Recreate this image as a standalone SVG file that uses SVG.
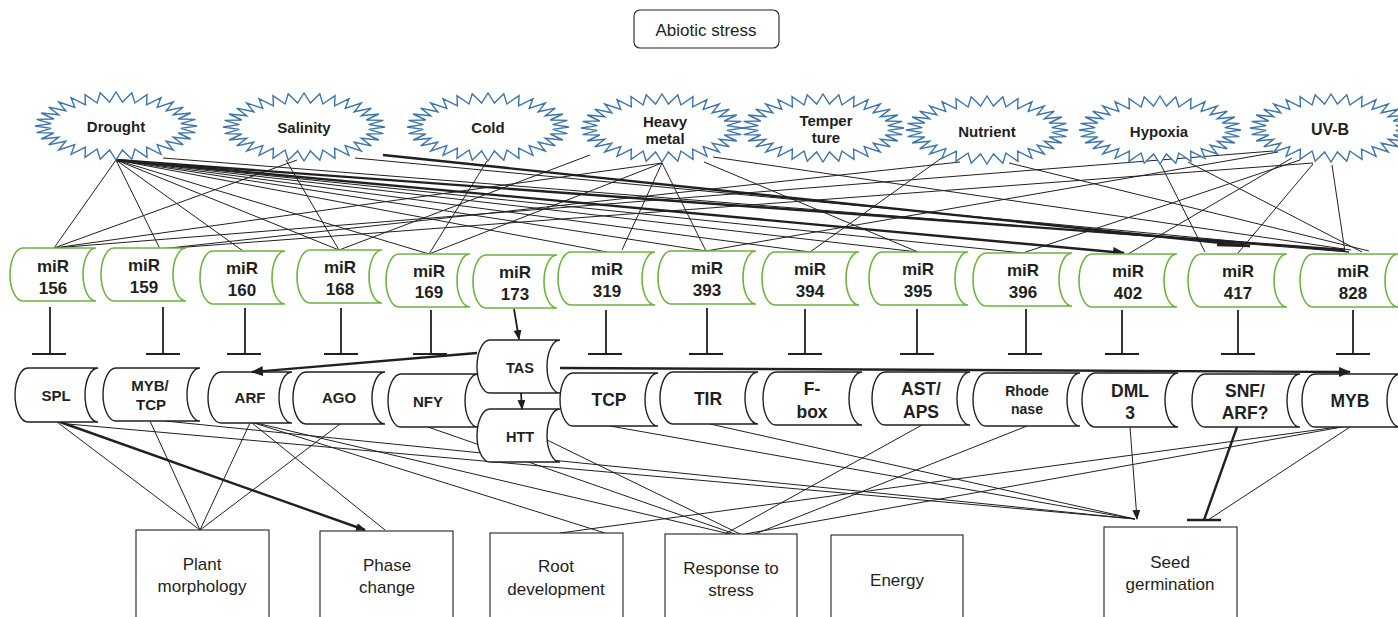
<svg xmlns="http://www.w3.org/2000/svg" xmlns:xlink="http://www.w3.org/1999/xlink" width="1398" height="617" viewBox="0 0 1398 617">
<style>
.star{fill:#fff;stroke:#3d75aa;stroke-width:1.4}
.mir{fill:#fff;stroke:#6db33f;stroke-width:1.6}
.tgt{fill:#fff;stroke:#231f20;stroke-width:1.4}
.box{fill:#fff;stroke:#231f20;stroke-width:1.1}
.ln{stroke:#231f20;stroke-width:1;fill:none}
.tk{stroke:#231f20;stroke-width:2.4;fill:none}
.inh{stroke:#231f20;stroke-width:1.8;fill:none}
text{font-family:"Liberation Sans",Arial,sans-serif;fill:#231f20;text-anchor:middle}
.st{font-size:15px;font-weight:bold}
.mt{font-size:17px;font-weight:bold}
.t15{font-size:15px;font-weight:bold}
.t17{font-size:17.5px;font-weight:bold}
.bt{font-size:17px}
</style>
<defs>
<marker id="arr" markerUnits="userSpaceOnUse" markerWidth="12" markerHeight="10" refX="11" refY="5" orient="auto"><path d="M0,0 L12,5 L0,10 Z" fill="#231f20"/></marker>
<marker id="arrs" markerUnits="userSpaceOnUse" markerWidth="10" markerHeight="8" refX="9" refY="4" orient="auto"><path d="M0,0 L10,4 L0,8 Z" fill="#231f20"/></marker>
<path id="star" d="M81,0 64.7,2.4 79.4,6.6 62.2,7 74.8,13 57.3,11.3 67.3,18.9 50.2,15.2 57.3,24 41.2,18.6 45,28.3 30.6,21.2 31,31.4 18.9,23 15.8,33.3 6.4,23.9 0,34 -6.4,23.9 -15.8,33.3 -18.9,23 -31,31.4 -30.6,21.2 -45,28.3 -41.2,18.6 -57.3,24 -50.2,15.2 -67.3,18.9 -57.3,11.3 -74.8,13 -62.2,7 -79.4,6.6 -64.7,2.4 -81,0 -64.7,-2.4 -79.4,-6.6 -62.2,-7 -74.8,-13 -57.3,-11.3 -67.3,-18.9 -50.2,-15.2 -57.3,-24 -41.2,-18.6 -45,-28.3 -30.6,-21.2 -31,-31.4 -18.9,-23 -15.8,-33.3 -6.4,-23.9 0,-34 6.4,-23.9 15.8,-33.3 18.9,-23 31,-31.4 30.6,-21.2 45,-28.3 41.2,-18.6 57.3,-24 50.2,-15.2 67.3,-18.9 57.3,-11.3 74.8,-13 62.2,-7 79.4,-6.6 64.7,-2.4 Z"/>
</defs>
<rect width="1398" height="617" fill="#fff"/>

<g id="connectors">
<!-- stars to miRNAs -->
<line class="ln" x1="116" y1="160" x2="54" y2="248"/>
<line class="ln" x1="116" y1="160" x2="160" y2="249"/>
<line class="ln" x1="116" y1="160" x2="243" y2="251"/>
<line class="ln" x1="116" y1="160" x2="339" y2="250"/>
<line class="ln" x1="116" y1="160" x2="429" y2="254"/>
<line class="ln" x1="116" y1="160" x2="607" y2="252"/>
<line class="ln" x1="116" y1="160" x2="706" y2="251"/>
<line class="ln" x1="116" y1="160" x2="810" y2="252"/>
<line class="ln" x1="116" y1="160" x2="918" y2="252"/>
<line class="ln" x1="116" y1="160" x2="1023" y2="253"/>
<line class="ln" x1="163" y1="158" x2="1349" y2="252"/>
<line class="tk" x1="116" y1="160" x2="1124" y2="253" marker-end="url(#arr)"/>
<line class="tk" x1="116" y1="160" x2="1345" y2="250"/>
<line class="tk" x1="383" y1="155" x2="1250" y2="246"/>
<line class="tk" x1="1217" y1="245" x2="1250" y2="246"/>
<line class="ln" x1="286" y1="160" x2="339" y2="250"/>
<line class="ln" x1="297" y1="160" x2="54" y2="248"/>
<line class="ln" x1="355" y1="158" x2="1349" y2="252"/>
<line class="ln" x1="487" y1="161" x2="429" y2="254"/>
<line class="ln" x1="662" y1="163" x2="54" y2="248"/>
<line class="ln" x1="662" y1="163" x2="429" y2="254"/>
<line class="ln" x1="662" y1="163" x2="622" y2="250"/>
<line class="ln" x1="662" y1="163" x2="706" y2="251"/>
<line class="ln" x1="590" y1="155" x2="339" y2="250"/>
<line class="ln" x1="704" y1="162" x2="918" y2="252"/>
<line class="ln" x1="713" y1="157" x2="1351" y2="250"/>
<line class="ln" x1="943" y1="157" x2="810" y2="252"/>
<line class="ln" x1="1009" y1="163" x2="1369" y2="251"/>
<line class="ln" x1="960" y1="162" x2="160" y2="249"/>
<line class="ln" x1="1160" y1="163" x2="1205" y2="252"/>
<line class="ln" x1="1188" y1="162" x2="1362" y2="252"/>
<line class="ln" x1="1273" y1="151" x2="54" y2="248"/>
<line class="ln" x1="1278" y1="152" x2="706" y2="251"/>
<line class="ln" x1="1292" y1="158" x2="1128" y2="254"/>
<line class="ln" x1="1300" y1="160" x2="1023" y2="253"/>
<line class="ln" x1="1313" y1="164" x2="1238" y2="253"/>
<line class="ln" x1="1332" y1="165" x2="1345" y2="252"/>
<line class="ln" x1="1313" y1="163" x2="160" y2="249"/>

<!-- inhibition from miRNAs -->
<path class="inh" d="M50,307 V354 M32,354 H66"/>
<path class="inh" d="M163,307 V354 M146,354 H180"/>
<path class="inh" d="M245,308 V354 M227,354 H261"/>
<path class="inh" d="M341,308 V354 M324,354 H358"/>
<path class="inh" d="M431,310 V354 M413,354 H447"/>
<path class="inh" d="M606,310 V354 M588,354 H622"/>
<path class="inh" d="M707,308 V354 M689,354 H723"/>
<path class="inh" d="M805,309 V354 M788,354 H822"/>
<path class="inh" d="M917,309 V354 M900,354 H934"/>
<path class="inh" d="M1026,309 V354 M1008,354 H1042"/>
<path class="inh" d="M1122,310 V354 M1105,354 H1139"/>
<path class="inh" d="M1238,310 V354 M1221,354 H1255"/>
<path class="inh" d="M1353,310 V354 M1336,354 H1370"/>

<!-- targets to processes -->
<line class="ln" x1="57" y1="422" x2="200" y2="530"/>
<line class="tk" x1="60" y1="422" x2="365" y2="530" marker-end="url(#arrs)"/>
<line class="ln" x1="68" y1="424" x2="1135" y2="519"/>
<line class="ln" x1="150" y1="421" x2="200" y2="530"/>
<line class="ln" x1="165" y1="421" x2="1135" y2="519"/>
<line class="ln" x1="250" y1="423" x2="200" y2="530"/>
<line class="ln" x1="252" y1="423" x2="385" y2="530"/>
<line class="ln" x1="254" y1="423" x2="605" y2="533"/>
<line class="ln" x1="256" y1="423" x2="730" y2="534"/>
<line class="ln" x1="340" y1="424" x2="200" y2="530"/>
<line class="ln" x1="428" y1="427" x2="735" y2="534"/>
<line class="ln" x1="547" y1="440" x2="740" y2="534"/>
<line class="ln" x1="610" y1="426" x2="1135" y2="519"/>
<line class="ln" x1="710" y1="424" x2="1135" y2="519"/>
<line class="ln" x1="922" y1="425" x2="725" y2="534"/>
<line class="ln" x1="1027" y1="426" x2="755" y2="534"/>
<line class="ln" x1="1130" y1="427" x2="1137" y2="519" marker-end="url(#arrs)"/>
<path class="tk" d="M1237,427 L1204,520 M1187,520 H1221"/>
<line class="ln" x1="1338" y1="427" x2="560" y2="533"/>
<line class="ln" x1="1342" y1="427" x2="745" y2="534"/>
<line class="ln" x1="1350" y1="427" x2="1208" y2="520"/>
</g>

<g id="abiotic-stress">
<rect x="634" y="10" width="145" height="38" rx="6" class="box"/>
<text class="bt" x="706" y="36">Abiotic stress</text>
</g>

<g id="star-drought"><use href="#star" class="star" transform="translate(116,126)"/><text class="st" x="116" y="132">Drought</text></g>
<g id="star-salinity"><use href="#star" class="star" transform="translate(304,127)"/><text class="st" x="304" y="133">Salinity</text></g>
<g id="star-cold"><use href="#star" class="star" transform="translate(488,127)"/><text class="st" x="488" y="133">Cold</text></g>
<g id="star-heavy-metal"><use href="#star" class="star" transform="translate(662,128)"/><text class="st" x="665" y="127">Heavy</text><text class="st" x="665" y="144">metal</text></g>
<g id="star-temperature"><use href="#star" class="star" transform="translate(823,128)"/><text class="st" x="826" y="126">Temper</text><text class="st" x="826" y="143">ture</text></g>
<g id="star-nutrient"><use href="#star" class="star" transform="translate(987,130)"/><text class="st" x="987" y="137">Nutrient</text></g>
<g id="star-hypoxia"><use href="#star" class="star" transform="translate(1160,130)"/><text class="st" x="1159" y="137">Hypoxia</text></g>
<g id="star-uvb"><use href="#star" class="star" transform="translate(1331,128)"/><text class="st" x="1330" y="135" style="font-size:16px">UV-B</text></g>

<g id="mir156"><path class="mir" d="M23,248 H96 A13,26.5 0 0 0 96,301 H23 A13,26.5 0 0 1 23,248 Z"/><text class="mt" x="53" y="272">miR</text><text class="mt" x="53" y="294">156</text></g>
<g id="mir159"><path class="mir" d="M114,248 H186 A13,26.5 0 0 0 186,301 H114 A13,26.5 0 0 1 114,248 Z"/><text class="mt" x="144" y="271">miR</text><text class="mt" x="144" y="293">159</text></g>
<g id="mir160"><path class="mir" d="M213,251 H285 A13,26.5 0 0 0 285,304 H213 A13,26.5 0 0 1 213,251 Z"/><text class="mt" x="242" y="274">miR</text><text class="mt" x="242" y="296">160</text></g>
<g id="mir168"><path class="mir" d="M310,250 H382 A13,26.5 0 0 0 382,303 H310 A13,26.5 0 0 1 310,250 Z"/><text class="mt" x="340" y="273">miR</text><text class="mt" x="340" y="295">168</text></g>
<g id="mir169"><path class="mir" d="M399,254 H470 A13,26.5 0 0 0 470,307 H399 A13,26.5 0 0 1 399,254 Z"/><text class="mt" x="429" y="277">miR</text><text class="mt" x="429" y="298">169</text></g>
<g id="mir173"><path class="mir" d="M486,255 H557 A13,26.5 0 0 0 557,308 H486 A13,26.5 0 0 1 486,255 Z"/><text class="mt" x="515" y="278">miR</text><text class="mt" x="515" y="300">173</text></g>
<g id="mir319"><path class="mir" d="M571,252 H655 A13,26.5 0 0 0 655,305 H571 A13,26.5 0 0 1 571,252 Z"/><text class="mt" x="607" y="275">miR</text><text class="mt" x="607" y="297">319</text></g>
<g id="mir393"><path class="mir" d="M671,251 H756 A13,26.5 0 0 0 756,304 H671 A13,26.5 0 0 1 671,251 Z"/><text class="mt" x="707" y="274">miR</text><text class="mt" x="707" y="296">393</text></g>
<g id="mir394"><path class="mir" d="M775,252 H859 A13,26.5 0 0 0 859,305 H775 A13,26.5 0 0 1 775,252 Z"/><text class="mt" x="810" y="275">miR</text><text class="mt" x="810" y="297">394</text></g>
<g id="mir395"><path class="mir" d="M882,252 H968 A13,26.5 0 0 0 968,305 H882 A13,26.5 0 0 1 882,252 Z"/><text class="mt" x="918" y="275">miR</text><text class="mt" x="918" y="297">395</text></g>
<g id="mir396"><path class="mir" d="M986,253 H1072 A13,26.5 0 0 0 1072,306 H986 A13,26.5 0 0 1 986,253 Z"/><text class="mt" x="1023" y="276">miR</text><text class="mt" x="1023" y="298">396</text></g>
<g id="mir402"><path class="mir" d="M1092,254 H1177 A13,26.5 0 0 0 1177,307 H1092 A13,26.5 0 0 1 1092,254 Z"/><text class="mt" x="1128" y="277">miR</text><text class="mt" x="1128" y="299">402</text></g>
<g id="mir417"><path class="mir" d="M1201,254 H1287 A13,26.5 0 0 0 1287,307 H1201 A13,26.5 0 0 1 1201,254 Z"/><text class="mt" x="1238" y="277">miR</text><text class="mt" x="1238" y="299">417</text></g>
<g id="mir828"><path class="mir" d="M1313,254 H1398 A13,26.5 0 0 0 1398,307 H1313 A13,26.5 0 0 1 1313,254 Z"/><text class="mt" x="1353" y="277">miR</text><text class="mt" x="1353" y="299">828</text></g>

<g id="t-spl"><path class="tgt" d="M28,368 H98 A13,27 0 0 0 98,422 H28 A13,27 0 0 1 28,368 Z"/><text class="t15" x="56" y="401">SPL</text></g>
<g id="t-mybtcp"><path class="tgt" d="M116,368 H200 A13,26.5 0 0 0 200,421 H116 A13,26.5 0 0 1 116,368 Z"/><text class="t15" x="150" y="391">MYB/</text><text class="t15" x="151" y="410">TCP</text></g>
<g id="t-arf"><path class="tgt" d="M221,372 H292 A13,25.5 0 0 0 292,423 H221 A13,25.5 0 0 1 221,372 Z"/><text class="t15" x="250" y="403">ARF</text></g>
<g id="t-ago"><path class="tgt" d="M306,372 H385 A13,26 0 0 0 385,424 H306 A13,26 0 0 1 306,372 Z"/><text class="t15" x="339" y="403">AGO</text></g>
<g id="t-nfy"><path class="tgt" d="M401,374 H478 A13,26.5 0 0 0 478,427 H401 A13,26.5 0 0 1 401,374 Z"/><text class="t15" x="428" y="407">NFY</text></g>
<g id="t-tas"><path class="tgt" d="M490,340 H560 A13,26.5 0 0 0 560,393 H490 A13,26.5 0 0 1 490,340 Z"/><text class="t15" x="520" y="373" style="font-size:14.5px">TAS</text></g>
<g id="t-htt"><path class="tgt" d="M490,409 H560 A13,26.5 0 0 0 560,462 H490 A13,26.5 0 0 1 490,409 Z"/><text class="t15" x="520" y="442" style="font-size:14.5px">HTT</text></g>
<g id="t-tcp"><path class="tgt" d="M573,373 H658 A13,26.5 0 0 0 658,426 H573 A13,26.5 0 0 1 573,373 Z"/><text class="t17" x="609" y="406">TCP</text></g>
<g id="t-tir"><path class="tgt" d="M673,372 H758 A13,26 0 0 0 758,424 H673 A13,26 0 0 1 673,372 Z"/><text class="t17" x="708" y="405">TIR</text></g>
<g id="t-fbox"><path class="tgt" d="M776,372 H862 A13,26.5 0 0 0 862,425 H776 A13,26.5 0 0 1 776,372 Z"/><text class="t17" x="812" y="395">F-</text><text class="t17" x="812" y="418">box</text></g>
<g id="t-astaps"><path class="tgt" d="M885,372 H970 A13,26.5 0 0 0 970,425 H885 A13,26.5 0 0 1 885,372 Z"/><text class="t17" x="921" y="395">AST/</text><text class="t17" x="921" y="418">APS</text></g>
<g id="t-rhodenase"><path class="tgt" d="M986,373 H1080 A13,26.5 0 0 0 1080,426 H986 A13,26.5 0 0 1 986,373 Z"/><text class="t15" x="1027" y="396" style="font-size:14px">Rhode</text><text class="t15" x="1027" y="414" style="font-size:14px">nase</text></g>
<g id="t-dml3"><path class="tgt" d="M1095,373 H1178 A13,27 0 0 0 1178,427 H1095 A13,27 0 0 1 1095,373 Z"/><text class="t17" x="1130" y="397">DML</text><text class="t17" x="1130" y="419">3</text></g>
<g id="t-snfarf"><path class="tgt" d="M1205,374 H1300 A13,26.5 0 0 0 1300,427 H1205 A13,26.5 0 0 1 1205,374 Z"/><text class="t17" x="1245" y="397">SNF/</text><text class="t17" x="1245" y="419">ARF?</text></g>
<g id="t-myb"><path class="tgt" d="M1315,374 H1400 A13,26.5 0 0 0 1400,427 H1315 A13,26.5 0 0 1 1315,374 Z"/><text class="t17" x="1350" y="407">MYB</text></g>

<g id="connectors-over">
<line class="tk" x1="514" y1="309" x2="519" y2="339" style="stroke-width:1.8" marker-end="url(#arrs)"/>
<line class="tk" x1="521" y1="393" x2="522" y2="409" style="stroke-width:1.8" marker-end="url(#arrs)"/>
<line class="tk" x1="477" y1="353" x2="252" y2="372" marker-end="url(#arr)"/>
<line class="tk" x1="560" y1="368" x2="1350" y2="372" marker-end="url(#arr)"/>
</g>

<g id="p-plant-morphology"><rect class="box" x="136" y="530" width="133" height="95"/><text class="bt" x="202" y="570">Plant</text><text class="bt" x="202" y="592">morphology</text></g>
<g id="p-phase-change"><rect class="box" x="320" y="531" width="133" height="95"/><text class="bt" x="387" y="571">Phase</text><text class="bt" x="387" y="593">change</text></g>
<g id="p-root-development"><rect class="box" x="490" y="533" width="133" height="95"/><text class="bt" x="556" y="572">Root</text><text class="bt" x="556" y="595">development</text></g>
<g id="p-response-to-stress"><rect class="box" x="665" y="534" width="132" height="95"/><text class="bt" x="731" y="574">Response to</text><text class="bt" x="731" y="596">stress</text></g>
<g id="p-energy"><rect class="box" x="831" y="535" width="132" height="95"/><text class="bt" x="897" y="586">Energy</text></g>
<g id="p-seed-germination"><rect class="box" x="1104" y="527" width="133" height="95"/><text class="bt" x="1170" y="568">Seed</text><text class="bt" x="1170" y="590">germination</text></g>
</svg>
